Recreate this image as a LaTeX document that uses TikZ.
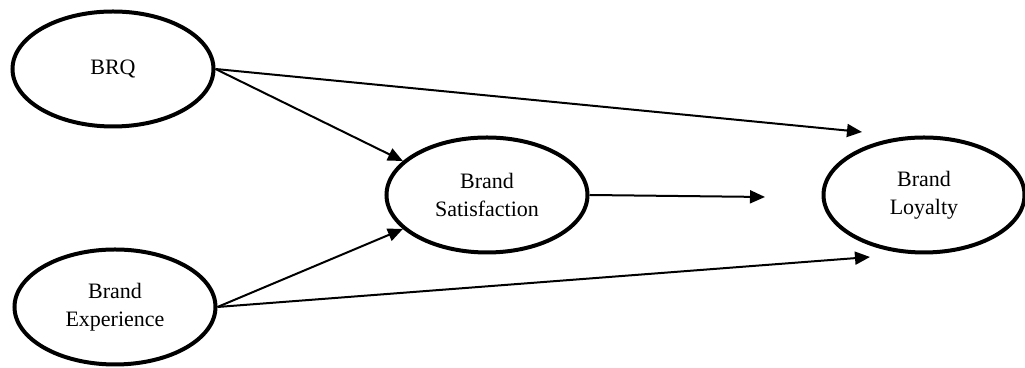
\documentclass[tikz,border=0pt]{standalone}
\usepackage{fontspec}
\setmainfont{Liberation Serif}
\usepackage{tikz}
\usetikzlibrary{arrows.meta,shapes.geometric}

\begin{document}
\begin{tikzpicture}[
		construct/.style={ellipse,draw,line width=2pt,minimum width=100.5pt,minimum height=57.5pt,
			inner sep=1pt,align=center,font=\fontsize{11}{14}\selectfont},
		link/.style={line width=1pt,-{Triangle[length=7.5pt,width=6.5pt]}},
		x=50pt,y=50pt]
		\useasboundingbox (0,0) rectangle (10.25,3.68);
		\node[construct] (brq) at (1.13,2.99) {BRQ};
		\node[construct] (exp) at (1.15,0.61) {Brand\\Experience};
		\node[construct] (sat) at (4.87,1.73) {Brand\\Satisfaction};
		\node[construct] (loy) at (9.24,1.73) {Brand\\Loyalty};
		\coordinate (toptip) at (8.62,2.36);
		\coordinate (midtip) at (7.65,1.71);
		\coordinate (lowtip) at (8.70,1.11);
		\draw[link] (brq.east) -- (toptip);
		\draw[link] (brq.east) -- (sat.158);
		\draw[link] (exp.east) -- (sat.202);
		\draw[link] (exp.east) -- (lowtip);
		\draw[link] (sat.east) -- (midtip);
\end{tikzpicture}
\end{document}
